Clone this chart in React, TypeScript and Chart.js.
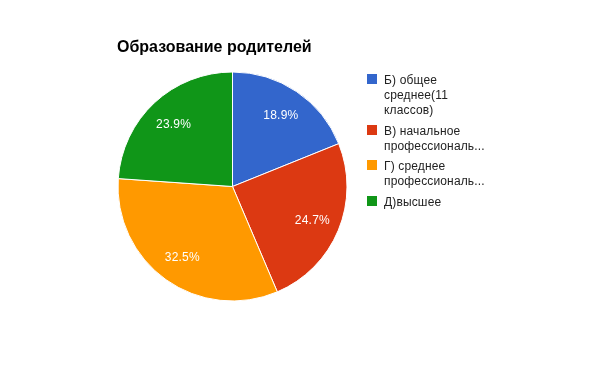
import React, { useEffect, useRef } from "react";
import { Chart, registerables } from "chart.js";

Chart.register(...registerables);

const title = "Образование родителей";
const categories = [
  "Б) общее среднее(11 классов)",
  "В) начальное профессиональное",
  "Г) среднее профессиональное",
  "Д)высшее",
];
const legendLines = [
  ["Б) общее", "среднее(11", "классов)"],
  ["В) начальное", "профессиональ..."],
  ["Г) среднее", "профессиональ..."],
  ["Д)высшее"],
];
const values = [18.9, 24.7, 32.5, 23.9];
const colors = ["#3366cc", "#dc3912", "#ff9900", "#109618"];

const FONT = "Arial, 'Liberation Sans', sans-serif";

const overlayPlugin = {
  id: "overlay",
  afterDraw(chart: any) {
    const ctx = chart.ctx as any;
    ctx.save();
    // title
    ctx.fillStyle = "#000";
    ctx.font = `bold 16px ${FONT}`;
    ctx.textBaseline = "alphabetic";
    ctx.textAlign = "left";
    ctx.fillText(title, 117, 52);

    // slice labels
    const meta = chart.getDatasetMeta(0);
    const total = values.reduce((a, b) => a + b, 0);
    ctx.font = `12px ${FONT}`;
    ctx.fillStyle = "#fff";
    ctx.textAlign = "center";
    ctx.textBaseline = "alphabetic";
    ctx.letterSpacing = "0.2px";
    meta.data.forEach((arc: any, i: number) => {
      const p = arc.getProps(["x", "y", "startAngle", "endAngle", "outerRadius"], true);
      const mid = (p.startAngle + p.endAngle) / 2;
      const r = p.outerRadius * 0.755;
      const pct = ((values[i] / total) * 100).toFixed(1) + "%";
      ctx.fillText(pct, p.x + Math.cos(mid) * r, p.y + Math.sin(mid) * r + 4.5);
    });

    // legend
    const lh = 15;
    let top = 74;
    ctx.textAlign = "left";
    ctx.textBaseline = "alphabetic";
    ctx.font = `12px ${FONT}`;
    ctx.letterSpacing = "0.15px";
    legendLines.forEach((lines, i) => {
      ctx.fillStyle = colors[i];
      ctx.fillRect(367, Math.round(top), 10, 10);
      ctx.fillStyle = "#222";
      lines.forEach((ln, j) => {
        ctx.fillText(ln, 384, Math.round(top) + 9.5 + j * lh);
      });
      top += lines.length * lh + 5.5;
    });
    ctx.restore();
  },
};

export default function App() {
  const ref = useRef<HTMLCanvasElement | null>(null);
  useEffect(() => {
    if (!ref.current) return;
    const chart = new Chart(ref.current, {
      type: "pie",
      data: {
        labels: categories,
        datasets: [
          {
            data: values,
            backgroundColor: colors,
            borderColor: "#ffffff",
            borderWidth: 1,
          },
        ],
      },
      options: {
        responsive: false,
        animation: false,
        devicePixelRatio: 1,
        layout: { padding: { left: 117.5, right: 257.5, top: 71.5, bottom: 72.5 } },
        plugins: {
          legend: { display: false },
          tooltip: { enabled: false },
          title: { display: false },
        },
      },
      plugins: [overlayPlugin],
    });
    return () => chart.destroy();
  }, []);
  return (
    <div style={{ position: "absolute", left: 0, top: 0, width: 605, height: 374, background: "#fff" }}>
      <canvas ref={ref} width={605} height={374} style={{ width: 605, height: 374 }} />
    </div>
  );
}
